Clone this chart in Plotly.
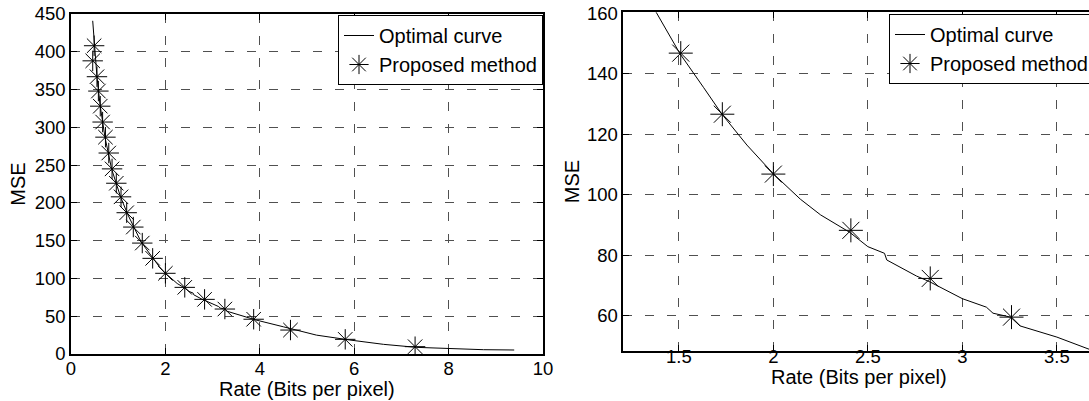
import plotly.graph_objects as go

# Optimal curve (rate in bits per pixel, MSE)
opt_rate = [0.46, 0.50, 0.55, 0.62, 0.72, 0.86, 1.05, 1.20, 1.38, 1.454, 1.507, 1.63, 1.728,
            1.86, 2.0, 2.143, 2.25, 2.405, 2.5, 2.588, 2.6, 2.757, 2.827, 3.0, 3.127, 3.162,
            3.255, 3.305, 3.5, 3.67, 3.92, 4.5, 5.2, 5.91, 6.62, 7.32, 8.03, 8.74, 9.39]
opt_mse = [441, 405, 367, 328, 287, 245, 208, 185, 160.3, 152.3, 146.5, 135.5, 126.6,
           116.4, 106.9, 98.5, 93.3, 87.5, 82.8, 80.6, 78.4, 73.1, 71.2, 65.6, 62.8, 60.8,
           59.5, 56.6, 52.9, 48.9, 45, 36, 25, 18.5, 12.8, 8.8, 7.0, 5.7, 5.3]

# Proposed method
prop_rate = [0.49, 0.46, 0.55, 0.58, 0.62, 0.67, 0.73, 0.80, 0.87, 0.96, 1.06, 1.18, 1.32,
             1.51, 1.73, 2.00, 2.41, 2.83, 3.26, 3.87, 4.65, 5.81, 7.29]
prop_mse = [408, 388, 367, 348, 328, 307, 287, 266, 245, 226, 208, 187, 168,
            146.8, 126.6, 106.8, 88.2, 72.3, 59.5, 46, 31.7, 19.4, 9.7]

left_xticks = [0, 2, 4, 6, 8, 10]
left_yticks = [0, 50, 100, 150, 200, 250, 300, 350, 400, 450]
right_xticks = [1.5, 2, 2.5, 3, 3.5]
right_yticks = [60, 80, 100, 120, 140, 160]

x_title = "Rate (Bits per pixel)"
y_title = "MSE"

W, H = 1089, 401
FONT = "Liberation Sans, Arial, sans-serif"

fig = go.Figure()
for ax, leg, msize in [("", "legend", 17), ("2", "legend2", 20)]:
    fig.add_trace(go.Scatter(x=opt_rate, y=opt_mse, mode="lines", name="Optimal curve",
                             line=dict(color="black", width=1),
                             xaxis="x" + ax, yaxis="y" + ax, legend=leg))
    fig.add_trace(go.Scatter(x=prop_rate, y=prop_mse, mode="markers", name="Proposed method",
                             marker=dict(symbol="asterisk-open", size=msize, color="black",
                                         line=dict(color="black", width=1)),
                             xaxis="x" + ax, yaxis="y" + ax, legend=leg))

grid = dict(showgrid=True, gridcolor="#505050", gridwidth=1, griddash="9px,13px",
            zeroline=False, showline=True, linecolor="black", linewidth=1.5,
            ticks="inside", ticklen=6, tickcolor="black",
            tickfont=dict(family=FONT, size=18.5, color="black"))

title_font = dict(family=FONT, size=20, color="black")

fig.update_layout(
    width=W, height=H,
    margin=dict(l=0, r=0, t=0, b=0, autoexpand=False),
    paper_bgcolor="white", plot_bgcolor="white",
    font=dict(family=FONT, color="black"),
    xaxis=dict(grid, domain=[71 / W, 543 / W], range=[0, 10], tickvals=left_xticks,
               anchor="y", mirror="ticks", ticklabelstandoff=-3),
    yaxis=dict(grid, domain=[(H - 354) / H, (H - 14) / H], range=[0, 450], tickvals=left_yticks,
               anchor="x", mirror="ticks",
               title=dict(text=y_title, font=title_font, standoff=4)),
    xaxis2=dict(grid, domain=[623.3 / W, 1.0], range=[1.206, 3.67], tickvals=right_xticks,
                anchor="y2", mirror="ticks", ticklabelstandoff=-12),
    yaxis2=dict(grid, domain=[(H - 350.7) / H, (H - 12.3) / H], range=[48.4, 160.3],
                tickvals=right_yticks, anchor="x2", mirror=False,
                title=dict(text=y_title, font=title_font, standoff=2)),
    legend=dict(x=543 / W, xanchor="right", y=(H - 15) / H, yanchor="top",
                bgcolor="white", bordercolor="black", borderwidth=1,
                font=dict(family=FONT, size=20, color="black"), itemwidth=30,
                tracegroupgap=0),
    legend2=dict(x=889 / W, xanchor="left", y=(H - 14) / H, yanchor="top",
                 bgcolor="white", bordercolor="black", borderwidth=1,
                 font=dict(family=FONT, size=20, color="black"), itemwidth=30,
                 tracegroupgap=0),
    showlegend=True,
    annotations=[
        dict(text=x_title, xref="paper", yref="paper", x=307 / W, y=(H - 389) / H,
             xanchor="center", yanchor="middle", showarrow=False, font=title_font),
        dict(text=x_title, xref="paper", yref="paper", x=859 / W, y=(H - 377) / H,
             xanchor="center", yanchor="middle", showarrow=False, font=title_font),
    ],
)

fig.write_html("out.html", config={"displayModeBar": False},
               post_script="document.body.style.margin='0';document.body.style.overflow='hidden';")
